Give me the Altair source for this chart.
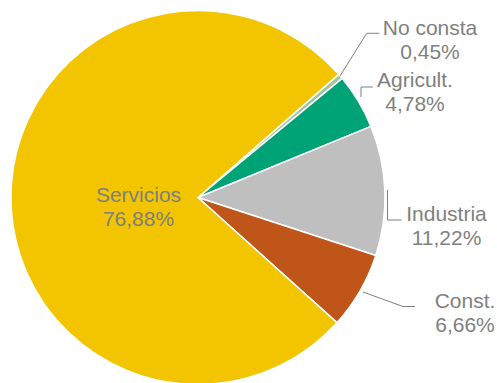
import altair as alt
import pandas as pd

# Data
categories = ["No consta", "Agricult.", "Industria", "Const.", "Servicios"]
shares = [0.45, 4.78, 11.22, 6.66, 76.88]
colors = ["#A2C3A2", "#00A375", "#BFBFBF", "#BF5518", "#F2C500"]

# Label layout (pixel positions of label anchor, first-line baseline)
label_x = [430, 415, 446.5, 465, 138.5]
label_y = [35, 87, 220.5, 308, 202]

# Leader line layout
leader_cat = ["No consta"] * 3 + ["Agricult."] * 3 + ["Industria"] * 3 + ["Const."] * 3
leader_x = [340, 366.7, 379.3, 361, 361, 373, 387.5, 387.5, 401.7, 363, 403, 415]
leader_y = [76, 33.3, 33.3, 97, 87, 87, 190, 220, 220, 292, 306.5, 306.5]
leader_ord = [0, 1, 2] * 4

W, H = 497, 383
CX, CY, R = 198, 197.5, 187
START = 0.852  # radians, clockwise from 12 o'clock

df = pd.DataFrame({
    "cat": categories,
    "share": shares,
    "ord": list(range(len(categories))),
})
labels = pd.DataFrame({
    "cat": categories,
    "txt": [f"{c}\n{str(format(s, '.2f')).replace('.', ',')}%" for c, s in zip(categories, shares)],
    "lx": label_x,
    "ly": label_y,
})
leaders = pd.DataFrame({"cat": leader_cat, "x": leader_x, "y": leader_y, "o": leader_ord})

import math

pie = alt.Chart(df).mark_arc(
    outerRadius=R, stroke="white", strokeWidth=1.5
).encode(
    theta=alt.Theta("share:Q", stack=True,
                    scale=alt.Scale(range=[START, START + 2 * math.pi])),
    order=alt.Order("ord:Q", sort="ascending"),
    color=alt.Color("cat:N", scale=alt.Scale(domain=categories, range=colors), legend=None),
    x=alt.value(CX),
    y=alt.value(CY),
)

xs = alt.Scale(domain=[0, W], range=[0, W])
ys = alt.Scale(domain=[0, H], range=[0, H])

lines = alt.Chart(leaders).mark_line(color="#7F7F7F", strokeWidth=1).encode(
    x=alt.X("x:Q", scale=xs, axis=None),
    y=alt.Y("y:Q", scale=ys, axis=None),
    detail="cat:N",
    order="o:Q",
)

text = alt.Chart(labels).mark_text(
    font="Liberation Sans", fontSize=21, color="#7F7F7F",
    align="center", baseline="alphabetic", lineBreak="\n", lineHeight=24,
).encode(
    x=alt.X("lx:Q", scale=xs, axis=None),
    y=alt.Y("ly:Q", scale=ys, axis=None),
    text="txt:N",
)

chart = alt.layer(pie, lines, text).properties(
    width=W, height=H, autosize=alt.AutoSizeParams(type="none"), padding=0
).configure_view(stroke=None).resolve_scale(x="shared", y="shared")

chart.save("out.html", embed_options={"renderer": "svg", "actions": False})
